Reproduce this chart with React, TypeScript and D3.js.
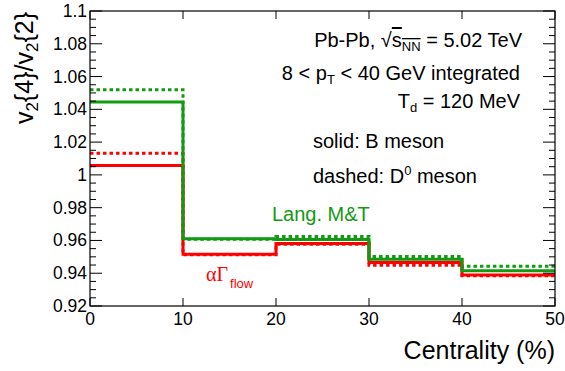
import React from "react";
import * as d3 from "d3";

const binEdges = [0, 10, 20, 30, 40, 50];
const langevinB = [1.0445, 0.9611, 0.9606, 0.9486, 0.9415]; // green solid
const langevinD = [1.052, 0.9607, 0.9624, 0.9502, 0.9443]; // green dashed
const alphaB = [1.0057, 0.9516, 0.9581, 0.9466, 0.9389]; // red solid
const alphaD = [1.0132, 0.9513, 0.9577, 0.9449, 0.9385]; // red dashed
const xTicks = [0, 10, 20, 30, 40, 50];
const yTicks = [0.92, 0.94, 0.96, 0.98, 1, 1.02, 1.04, 1.06, 1.08, 1.1];
const yTickLabels = ["0.92", "0.94", "0.96", "0.98", "1", "1.02", "1.04", "1.06", "1.08", "1.1"];

const W = 565, H = 371;
const L = 90, R = 555, T = 11, B = 306;
const GREEN = "#129a12";
const RED = "#ff0000";
const SANS = "'Liberation Sans', Arial, Helvetica, sans-serif";
const SERIF = "'Liberation Serif', 'Times New Roman', serif";

export default function App() {
  const x = d3.scaleLinear().domain([0, 50]).range([L, R]);
  const y = d3.scaleLinear().domain([0.92, 1.1]).range([B, T]);

  const stepPath = (vals: number[]) => {
    const pts: [number, number][] = vals.map((v, i) => [binEdges[i], v]);
    pts.push([binEdges[binEdges.length - 1], vals[vals.length - 1]]);
    return d3
      .line<[number, number]>()
      .x((d) => x(d[0]))
      .y((d) => y(d[1]))
      .curve(d3.curveStepAfter)(pts) as string;
  };

  const minorY = d3.range(0, 37).map((i) => 0.92 + i * 0.005).filter((v) => v <= 1.1 + 1e-9);

  return (
    <svg width={W} height={H} style={{ position: "absolute", left: 0, top: 0, background: "#fff" }}>
      <rect x={0} y={0} width={W} height={H} fill="#fff" />
      {/* histograms */}
      <path d={stepPath(alphaD)} fill="none" stroke={RED} strokeWidth={3} strokeDasharray="3.5,3" />
      <path d={stepPath(langevinD)} fill="none" stroke={GREEN} strokeWidth={3} strokeDasharray="3.5,3" />
      <path d={stepPath(alphaB)} fill="none" stroke={RED} strokeWidth={3} />
      <path d={stepPath(langevinB)} fill="none" stroke={GREEN} strokeWidth={3} />

      {/* frame */}
      <rect x={L} y={T} width={R - L} height={B - T} fill="none" stroke="#000" strokeWidth={1.2} />

      {/* y ticks */}
      {minorY.map((v, i) => {
        const major = i % 4 === 0;
        const len = major ? 12 : 6;
        return (
          <g key={"yt" + i}>
            <line x1={L} x2={L + len} y1={y(v)} y2={y(v)} stroke="#000" strokeWidth={1} />
            <line x1={R} x2={R - len} y1={y(v)} y2={y(v)} stroke="#000" strokeWidth={1} />
          </g>
        );
      })}
      {/* x ticks */}
      {xTicks.map((v, i) => (
        <g key={"xt" + i}>
          <line x1={x(v)} x2={x(v)} y1={B} y2={B - 8} stroke="#000" strokeWidth={1} />
          <line x1={x(v)} x2={x(v)} y1={T} y2={T + 8} stroke="#000" strokeWidth={1} />
        </g>
      ))}

      {/* tick labels */}
      {yTicks.map((v, i) => (
        <text key={"yl" + i} x={L - 3} y={y(v) + 6} textAnchor="end" fontFamily={SANS} fontSize={17.5} fill="#000">
          {yTickLabels[i]}
        </text>
      ))}
      {xTicks.map((v, i) => (
        <text key={"xl" + i} x={x(v)} y={325} textAnchor="middle" fontFamily={SANS} fontSize={17.5} fill="#000">
          {String(v)}
        </text>
      ))}

      {/* axis titles */}
      <text x={555} y={359} textAnchor="end" fontFamily={SANS} fontSize={25} fill="#000">
        Centrality (%)
      </text>
      <text
        transform={`translate(33,12) rotate(-90)`}
        textAnchor="end"
        fontFamily={SANS}
        fontSize={25}
        fill="#000"
      >
        v<tspan fontSize={17} dy={5}>2</tspan>
        <tspan dy={-5}>{"{4}/v"}</tspan>
        <tspan fontSize={17} dy={5}>2</tspan>
        <tspan dy={-5}>{"{2}"}</tspan>
      </text>

      {/* annotations */}
      <text x={522} y={47} textAnchor="end" fontFamily={SANS} fontSize={20} fill="#000">
        Pb-Pb, √<tspan textDecoration="overline" style={{ textDecoration: "overline" }}>s<tspan fontSize={13} dy={4}>NN</tspan></tspan>
        <tspan dy={-4}> = 5.02 TeV</tspan>
      </text>
      <text x={520} y={80} textAnchor="end" fontFamily={SANS} fontSize={20} fill="#000">
        8 &lt; p<tspan fontSize={13} dy={4}>T</tspan>
        <tspan dy={-4}> &lt; 40 GeV integrated</tspan>
      </text>
      <text x={520} y={108} textAnchor="end" fontFamily={SANS} fontSize={20} fill="#000">
        T<tspan fontSize={13} dy={4}>d</tspan>
        <tspan dy={-4}> = 120 MeV</tspan>
      </text>
      <text x={313} y={148} fontFamily={SANS} fontSize={20} fill="#000">
        solid: B meson
      </text>
      <text x={313} y={183} fontFamily={SANS} fontSize={20} fill="#000">
        dashed: D<tspan fontSize={13} dy={-8}>0</tspan>
        <tspan dy={8}> meson</tspan>
      </text>
      <text x={272} y={221} fontFamily={SANS} fontSize={20} fill={GREEN}>
        Lang. M&amp;T
      </text>
      <text x={206} y={281} fill={RED}>
        <tspan fontFamily={SERIF} fontSize={20}>αΓ</tspan>
        <tspan fontFamily={SANS} fontSize={13} dx={2} dy={7}>flow</tspan>
      </text>
    </svg>
  );
}
